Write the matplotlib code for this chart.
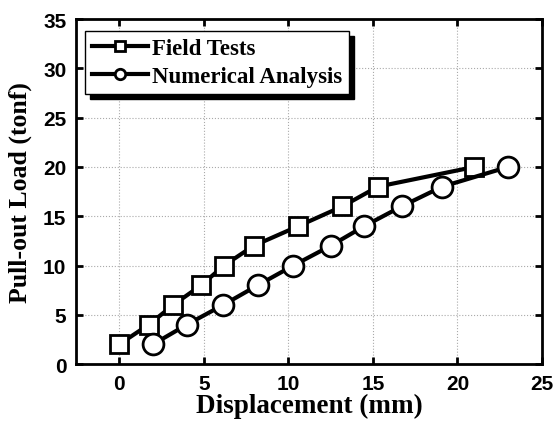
"""Pull-out load vs displacement: field tests against numerical analysis."""

import matplotlib
matplotlib.use("Agg")
import matplotlib.pyplot as plt

field_disp = [0.0, 1.75, 3.2, 4.85, 6.2, 7.95, 10.6, 13.2, 15.3, 21.0]
field_load = [2, 4, 6, 8, 10, 12, 14, 16, 18, 20]

num_disp = [2.0, 4.0, 6.15, 8.2, 10.3, 12.5, 14.5, 16.7, 19.1, 23.0]
num_load = [2, 4, 6, 8, 10, 12, 14, 16, 18, 20]

x_ticks = [0, 5, 10, 15, 20, 25]
y_ticks = [0, 5, 10, 15, 20, 25, 30, 35]

SERIF = "Liberation Serif"
SANS = "Liberation Sans"

fig = plt.figure(figsize=(5.57, 4.27), dpi=100)
ax = fig.add_axes([0.1365, 0.145, 0.8366, 0.808])

ax.plot(field_disp, field_load, color="black", linewidth=3.0,
        marker="s", markersize=13, markerfacecolor="white",
        markeredgecolor="black", markeredgewidth=2.0, label="Field Tests")
ax.plot(num_disp, num_load, color="black", linewidth=3.0,
        marker="o", markersize=15, markerfacecolor="white",
        markeredgecolor="black", markeredgewidth=2.0,
        label="Numerical Analysis")

ax.set_xlim(-2.55, 25.0)
ax.set_ylim(0, 35)
ax.set_xticks(x_ticks)
ax.set_yticks(y_ticks)
ax.grid(True, linestyle=":", color="#aaaaaa", linewidth=0.8)
ax.set_axisbelow(True)

ax.tick_params(direction="in", top=True, right=True, length=5, width=2,
               labelsize=15, pad=7)
for lab in ax.get_xticklabels() + ax.get_yticklabels():
    lab.set_fontfamily(SANS)
    lab.set_fontweight("bold")
for sp in ax.spines.values():
    sp.set_linewidth(2.0)

ax.set_xlabel("Displacement (mm)", fontfamily=SERIF, fontweight="bold",
              fontsize=19.5, labelpad=0)
ax.set_ylabel("Pull-out Load (tonf)", fontfamily=SERIF, fontweight="bold",
              fontsize=18.5, labelpad=8)

leg = ax.legend(loc="upper left", bbox_to_anchor=(0.019, 0.965),
                prop={"family": SERIF, "weight": "bold", "size": 16.5},
                markerscale=0.5, handlelength=2.45, handletextpad=0.2,
                borderpad=0.3, labelspacing=0.3, fancybox=False,
                shadow={"color": "black", "alpha": 1.0, "ox": 3.5, "oy": -3.5},
                framealpha=1.0, edgecolor="black", borderaxespad=0.0)
leg.get_frame().set_linewidth(1.0)

fig.savefig("out.png", dpi=100)
